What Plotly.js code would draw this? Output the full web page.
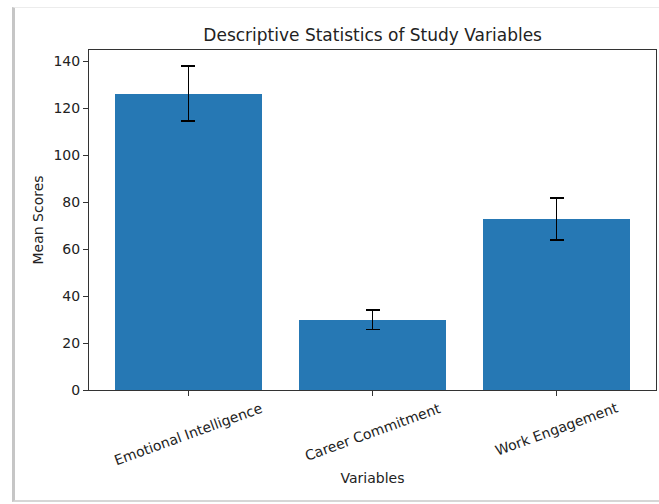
<!DOCTYPE html>
<html>
<head>
<meta charset="utf-8">
<script src="https://cdn.plot.ly/plotly-3.0.1.min.js"></script>
<style>
  html, body { margin: 0; padding: 0; background: #ffffff; }
  #wrap { position: relative; width: 659px; height: 504px; overflow: hidden; }
  #frame { position: absolute; left: 12px; top: 7px; width: 700px; height: 495px;
           border-left: 3px solid #c6c6c6; border-top: 1px solid #ececec; border-bottom: 2px solid #d6d6d6;
           box-sizing: border-box; pointer-events: none; }
  #chart { position: absolute; left: 0; top: 0; width: 659px; height: 504px; }
</style>
</head>
<body>
<div id="wrap">
  <div id="frame"></div>
  <div id="chart"></div>
</div>
<script>
const categories = ["Emotional Intelligence", "Career Commitment", "Work Engagement"];
const means = [126.2, 29.9, 72.8];
const sds = [11.7, 4.1, 9.0];
const yTicks = [0, 20, 40, 60, 80, 100, 120, 140];

const font = 'DejaVu Sans, sans-serif';
const textColor = '#222222';

const xs = categories.map((c, i) => i);

const trace = {
  type: 'bar',
  x: xs,
  y: means,
  width: 0.8,
  marker: { color: '#2678b4', line: { width: 0 } },
  error_y: { type: 'data', array: sds, visible: true, color: '#000000', thickness: 1.6, width: 7 },
  hoverinfo: 'skip'
};

// rotated, centre-aligned category labels (matplotlib style), placed via the x axis scale
const labelAnnotations = categories.map((c, i) => ({
  x: xs[i], y: 0, xref: 'x', yref: 'y',
  text: c, showarrow: false, textangle: -20,
  xanchor: 'center', yanchor: 'top', yshift: -7,
  font: { family: font, size: 14, color: textColor }
}));

const layout = {
  width: 659, height: 504,
  margin: { l: 89, r: 3, t: 50, b: 114 },
  paper_bgcolor: 'rgba(0,0,0,0)',
  plot_bgcolor: '#ffffff',
  showlegend: false,
  bargap: 0,
  title: { text: 'Descriptive Statistics of Study Variables', font: { family: font, size: 17, color: textColor },
           x: 0.5655, xanchor: 'center', y: 0.93, yanchor: 'middle' },
  annotations: labelAnnotations,
  xaxis: {
    range: [-0.54, 2.54],
    tickvals: xs, showticklabels: false,
    ticks: 'outside', ticklen: 5, tickcolor: '#333', tickwidth: 1,
    showgrid: false, zeroline: false,
    showline: true, linecolor: '#333', linewidth: 1, mirror: true,
    automargin: false,
    title: { text: 'Variables', font: { family: font, size: 14, color: textColor }, standoff: 78 }
  },
  yaxis: {
    range: [0, 144.8],
    tickvals: yTicks,
    ticks: 'outside', ticklen: 5, tickcolor: '#333', tickwidth: 1,
    showgrid: false, zeroline: false,
    showline: true, linecolor: '#333', linewidth: 1, mirror: true,
    automargin: false,
    tickfont: { family: font, size: 14, color: textColor },
    title: { text: 'Mean Scores', font: { family: font, size: 14, color: textColor }, standoff: 6 }
  }
};

Plotly.newPlot('chart', [trace], layout, { staticPlot: true, displayModeBar: false });
</script>
</body>
</html>
